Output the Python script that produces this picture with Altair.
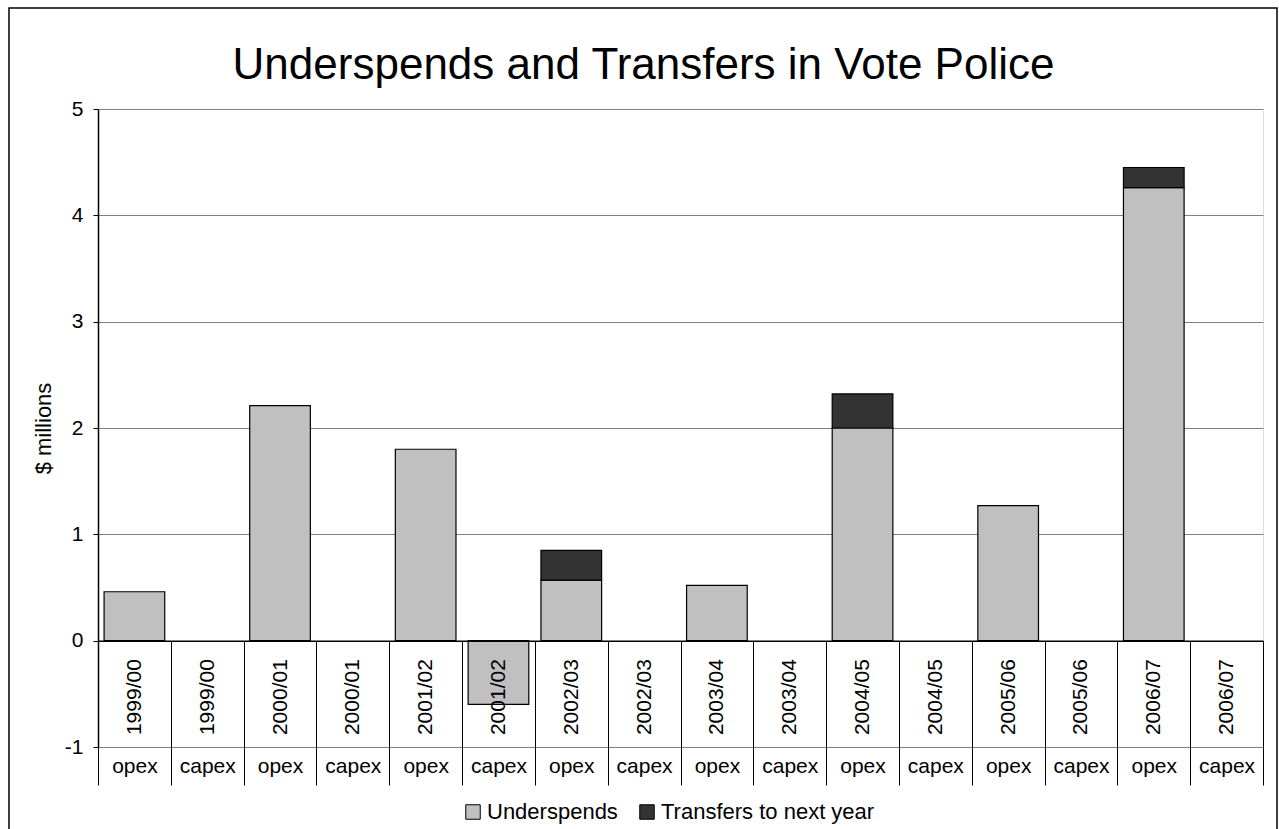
import altair as alt
import pandas as pd

years = ["1999/00", "1999/00", "2000/01", "2000/01", "2001/02", "2001/02",
         "2002/03", "2002/03", "2003/04", "2003/04", "2004/05", "2004/05",
         "2005/06", "2005/06", "2006/07", "2006/07"]
kinds = ["opex", "capex"] * 8
underspends = [0.46, 0, 2.21, 0, 1.80, -0.60, 0.57, 0, 0.52, 0, 2.00, 0, 1.27, 0, 4.26, 0]
transfers = [0, 0, 0, 0, 0, 0, 0.28, 0, 0, 0, 0.32, 0, 0, 0, 0.19, 0]
series = ["Underspends", "Transfers to next year"]
colors = ["#c0c0c0", "#333333"]
y_ticks = [-1, 0, 1, 2, 3, 4, 5]

FONT = "Liberation Sans"
cats = [f"{y}|{k}" for y, k in zip(years, kinds)]

rows = []
for c, u, t in zip(cats, underspends, transfers):
    rows.append({"cat": c, "series": series[0], "value": u, "ord": 0})
    rows.append({"cat": c, "series": series[1], "value": t, "ord": 1})
df = pd.DataFrame(rows)

W, H = 1165, 638
unit = H / 6.0

xscale = alt.Scale(domain=cats, paddingInner=0, paddingOuter=0)

year_axis = alt.Axis(
    orient="bottom", offset=-unit, title=None,
    labelExpr="split(datum.label, '|')[0]",
    labelAngle=-90, labelAlign="right", labelBaseline="middle",
    labelPadding=18 - unit, labelFont=FONT, labelFontSize=21, labelColor="black",
    labelOverlap=False, labelBound=False, labelFlush=False,
    tickBand="extent", tickSize=unit, tickColor="black", tickWidth=1,
    domain=True, domainColor="black", domainWidth=1.5, grid=False, zindex=1,
)

type_axis = alt.Axis(
    orient="bottom", offset=0, title=None,
    labelExpr="split(datum.label, '|')[1]",
    labelAngle=0, labelAlign="center", labelBaseline="middle",
    labelPadding=-19, labelFont=FONT, labelFontSize=21, labelColor="black",
    labelOverlap=False, labelBound=False, labelFlush=False,
    tickBand="extent", tickSize=38, tickColor="black", tickWidth=1,
    domain=False, grid=False, zindex=1,
)

y_axis = alt.Axis(
    values=y_ticks, labelExpr="'' + datum.value", title="$ millions",
    titleFont=FONT, titleFontSize=22, titleFontWeight="normal", titleColor="black",
    titlePadding=9,
    labelFont=FONT, labelFontSize=21, labelColor="black", labelPadding=10,
    tickSize=5, tickColor="black", domainColor="black", domainWidth=1.5,
    grid=True, gridColor="#808080", gridWidth=1,
)

bars = alt.Chart(df).transform_filter("datum.value != 0").mark_bar(
    stroke="black", strokeWidth=1.2, width=alt.RelativeBandSize(0.833)
).encode(
    x=alt.X("cat:N", scale=xscale, axis=year_axis, sort=cats),
    y=alt.Y("value:Q", scale=alt.Scale(domain=[-1, 5], nice=False, zero=False),
            axis=y_axis, stack="zero"),
    color=alt.Color("series:N",
                    scale=alt.Scale(domain=series, range=colors),
                    legend=alt.Legend(
                        orient="none", legendX=364, legendY=692,
                        direction="horizontal", title=None,
                        symbolType="square", symbolSize=210,
                        symbolStrokeColor="black", symbolStrokeWidth=1,
                        labelFont=FONT, labelFontSize=22, labelColor="black",
                        labelOffset=3, columnPadding=18, labelLimit=500,
                    )),
    order=alt.Order("ord:Q"),
)

type_layer = alt.Chart(df).mark_point(opacity=0).encode(
    x=alt.X("cat:N", scale=xscale, axis=type_axis, sort=cats),
    y=alt.Y("value:Q"),
)

frame = alt.Chart(pd.DataFrame({"a": [0]})).mark_rect(
    fill="transparent", stroke="black", strokeWidth=1.5
).encode(
    x=alt.value(9 - 98), x2=alt.value(1277 - 98),
    y=alt.value(8 - 109), y2=alt.value(760),
)

chart = alt.layer(bars, type_layer, frame).resolve_axis(x="independent").properties(
    width=W, height=H,
    title=alt.TitleParams(
        "Underspends and Transfers in Vote Police",
        font=FONT, fontSize=44, fontWeight="normal", color="black",
        anchor="middle", dx=-37, baseline="alphabetic", offset=0, dy=116,
    ),
    autosize=alt.AutoSizeParams(type="none"),
    padding={"left": 98, "top": 109, "right": 16, "bottom": 82},
).configure_view(stroke="#808080", strokeWidth=1).configure(background="white")

chart.save("out.html", embed_options={"renderer": "svg", "actions": False})
